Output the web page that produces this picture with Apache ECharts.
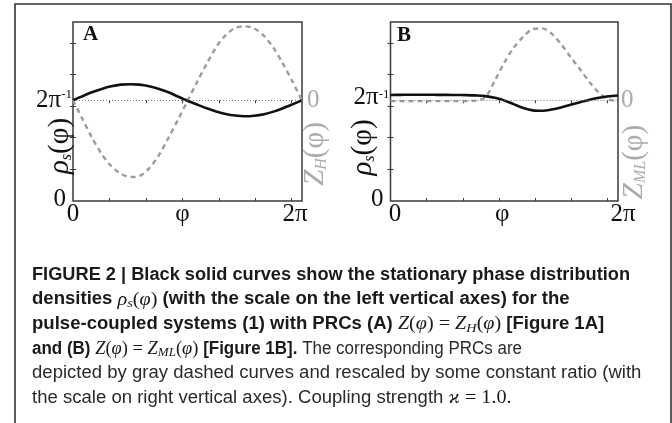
<!DOCTYPE html>
<html>
<head>
<meta charset="utf-8">
<script src="https://cdn.jsdelivr.net/npm/echarts@6/dist/echarts.min.js"></script>
<style>
  html, body { margin: 0; padding: 0; background: #fff; }
  #chart { width: 672px; height: 423px; }
</style>
</head>
<body>
<div id="chart"></div>
<script>
// Phase samples (radians) shared by every curve
const phi = [0.00, 0.26, 0.52, 0.79, 1.05, 1.31, 1.57, 1.83, 2.09, 2.36, 2.62, 2.88, 3.14,
             3.40, 3.67, 3.93, 4.19, 4.45, 4.71, 4.97, 5.24, 5.50, 5.76, 6.02, 6.28];

// Panel A: stationary density and Hodgkin-Huxley PRC (rescaled)
const rhoA = [0.1592, 0.1656, 0.1717, 0.1771, 0.1812, 0.1838, 0.1845, 0.1838, 0.1812, 0.1771, 0.1717, 0.1650, 0.1585,
              0.1525, 0.1465, 0.1415, 0.1375, 0.1350, 0.1340, 0.1348, 0.1372, 0.1412, 0.1465, 0.1527, 0.1592];
const zH = [0, -0.25, -0.50, -0.72, -0.88, -0.98, -1.025, -1.01, -0.91, -0.73, -0.50, -0.26, -0.01,
            0.24, 0.49, 0.71, 0.87, 0.965, 0.987, 0.96, 0.86, 0.70, 0.49, 0.25, 0];

// Panel B: stationary density and Morris-Lecar PRC (rescaled)
const rhoB = [0.1675, 0.1677, 0.1678, 0.1678, 0.1678, 0.1677, 0.1676, 0.1675, 0.1673, 0.1668, 0.1657, 0.1630, 0.1590,
              0.1530, 0.1470, 0.1432, 0.1425, 0.1445, 0.1478, 0.1520, 0.1562, 0.1600, 0.1632, 0.1655, 0.1668];
const zML = [-0.012, -0.012, -0.012, -0.012, -0.012, -0.012, -0.012, -0.012, -0.010, -0.005, 0.04, 0.26, 0.50,
             0.70, 0.85, 0.95, 0.96, 0.89, 0.75, 0.58, 0.41, 0.24, 0.10, 0.01, -0.01];

// Axis ticks
const phaseTicks = [1, 2, 3, 4, 5, 6];
const densityTicks = [0.05, 0.10, 0.15, 0.20, 0.25];

const TWO_PI = 2 * Math.PI;
const RHO_MEAN = 1 / TWO_PI;     // uniform density level, labelled 2π⁻¹
const RHO_MAX = 0.2828;          // top of the density axis
const PRC_SCALE = 0.1183;        // density units per PRC unit on the right axis
const prcMin = -RHO_MEAN / PRC_SCALE;
const prcMax = (RHO_MAX - RHO_MEAN) / PRC_SCALE;
const prcTicks = densityTicks.map(v => (v - RHO_MEAN) / PRC_SCALE);

const SERIF = '"Liberation Serif", "Times New Roman", serif';
const SANS = '"Liberation Sans", Arial, Helvetica, sans-serif';
const FRAME = '#3a3a3a';
const GRAY = '#9c9c9c';
const LIGHT = '#ababab';

const zip = (xs, ys) => xs.map((x, i) => [x, ys[i]]);

function shiftPad(s) { return s < 0 ? [0, -2 * s, 0, 0] : [0, 0, 0, 2 * s]; }

function panel(idx, xShift, meanLift, rho, prc) {
  const xb = idx * 2, yl = idx * 2;
  const tickStyle = { show: true, inside: true, length: 3, lineStyle: { color: FRAME, width: 1 } };
  const xAxes = [
    {
      gridIndex: idx, type: 'value', min: 0, max: TWO_PI, position: 'bottom',
      splitLine: { show: false }, axisLine: { show: false },
      axisTick: Object.assign({ customValues: phaseTicks }, tickStyle),
      axisLabel: {
        customValues: [0, Math.PI, TWO_PI], margin: 1,
        formatter: v => v === 0 ? '{p0|0}' : (v === Math.PI ? '{p1|φ}' : '{p2|2π}'),
        rich: {
          p0: { fontFamily: SERIF, fontSize: 25, color: '#111', padding: shiftPad(xShift[0]) },
          p1: { fontFamily: SERIF, fontSize: 25, color: '#111', padding: shiftPad(xShift[1]) },
          p2: { fontFamily: SERIF, fontSize: 25, color: '#111', padding: shiftPad(xShift[2]) }
        }
      }
    },
    {
      gridIndex: idx, type: 'value', min: 0, max: TWO_PI, position: 'top',
      splitLine: { show: false }, axisLine: { show: false },
      axisTick: Object.assign({ customValues: phaseTicks }, tickStyle),
      axisLabel: { show: false }
    }
  ];
  const yAxes = [
    {
      gridIndex: idx, type: 'value', min: 0, max: RHO_MAX, position: 'left',
      splitLine: { show: false }, axisLine: { show: false },
      axisTick: Object.assign({ customValues: densityTicks }, tickStyle),
      axisLabel: {
        customValues: [0, RHO_MEAN], margin: 1,
        formatter: v => v === 0 ? '{z|0}' : '{a|2π}{s|-1}',
        rich: {
          z: { fontFamily: SERIF, fontSize: 25, color: '#111', padding: [0, 6, 4, 0] },
          a: { fontFamily: SERIF, fontSize: 25, color: '#111', lineHeight: 25, padding: [0, 0, meanLift, 0] },
          s: { fontFamily: SERIF, fontSize: 13, color: '#111', lineHeight: 13, verticalAlign: 'top' }
        }
      }
    },
    {
      gridIndex: idx, type: 'value', min: prcMin, max: prcMax, position: 'right',
      splitLine: { show: false }, axisLine: { show: false },
      axisTick: Object.assign({ customValues: prcTicks }, tickStyle),
      axisLabel: {
        customValues: [0], margin: idx === 0 ? 5 : 3,
        formatter: () => '0',
        fontFamily: SERIF, fontSize: 25, color: LIGHT
      }
    }
  ];
  const series = [
    {
      type: 'line', xAxisIndex: xb, yAxisIndex: yl + 1, data: zip(phi, prc),
      smooth: 0.3, showSymbol: false, silent: true, z: 2,
      lineStyle: { color: GRAY, width: 2.4, type: [5, 4] },
      markLine: {
        silent: true, symbol: 'none', label: { show: false },
        lineStyle: { color: '#7a7a7a', width: 1, type: [1, 2] },
        data: [{ yAxis: 0 }]
      }
    },
    {
      type: 'line', xAxisIndex: xb, yAxisIndex: yl, data: zip(phi, rho),
      smooth: 0.3, showSymbol: false, silent: true, z: 3,
      lineStyle: { color: '#111', width: 2.6 }
    }
  ];
  return { xAxes, yAxes, series };
}

const grids = [
  { left: 73, top: 22, width: 229, height: 179 },
  { left: 390.5, top: 22, width: 227.5, height: 179 }
].map(g => Object.assign({ show: true, borderColor: FRAME, borderWidth: 1.5, backgroundColor: 'transparent' }, g));

const pA = panel(0, [0, -5, -7], 0, rhoA, zH);
const pB = panel(1, [4.5, -2, 5], 6, rhoB, zML);

// Rotated axis titles and panel letters
function vtext(x, y, text, rich) {
  return { type: 'text', x, y, rotation: Math.PI / 2, silent: true,
           style: { text, rich, align: 'center', verticalAlign: 'middle' } };
}
const rhoRich = {
  i: { fontFamily: SERIF, fontStyle: 'italic', fontSize: 29, fill: '#111', lineHeight: 30 },
  s: { fontFamily: SERIF, fontStyle: 'italic', fontSize: 16, fill: '#111', lineHeight: 14, verticalAlign: 'bottom' },
  r: { fontFamily: SERIF, fontSize: 29, fill: '#111', lineHeight: 30 }
};
const zRich = {
  i: { fontFamily: SERIF, fontStyle: 'italic', fontSize: 29, fill: LIGHT, lineHeight: 30 },
  s: { fontFamily: SERIF, fontStyle: 'italic', fontSize: 16, fill: LIGHT, lineHeight: 14, verticalAlign: 'bottom' },
  r: { fontFamily: SERIF, fontSize: 29, fill: LIGHT, lineHeight: 30 }
};

// Caption: sans text with inline math
const capRich = {
  b: { fontFamily: SANS, fontWeight: 'bold', fontSize: 17.5, fill: '#1a1a1a', lineHeight: 22 },
  r: { fontFamily: SANS, fontWeight: 'normal', fontSize: 17.5, fill: '#2a2a2a', lineHeight: 22 },
  mi: { fontFamily: SERIF, fontStyle: 'italic', fontSize: 19, fill: '#1a1a1a', lineHeight: 22 },
  mr: { fontFamily: SERIF, fontSize: 19, fill: '#1a1a1a', lineHeight: 22 },
  ms: { fontFamily: SERIF, fontStyle: 'italic', fontSize: 13.5, fill: '#1a1a1a', lineHeight: 12, verticalAlign: 'bottom' }
};
const captionLines = [
  '{b|FIGURE 2 | Black solid curves show the stationary phase distribution}',
  '{b|densities }{mi|ρ}{ms|s}{mr|(}{mi|φ}{mr|)}{b| (with the scale on the left vertical axes) for the}',
  '{b|pulse-coupled systems (1) with PRCs (A) }{mi|Z}{mr|(}{mi|φ}{mr|) = }{mi|Z}{ms|H}{mr|(}{mi|φ}{mr|)}{b| [Figure 1A]}',
  '{b|and (B) }{mi|Z}{mr|(}{mi|φ}{mr|) = }{mi|Z}{ms|ML}{mr|(}{mi|φ}{mr|)}{b| [Figure 1B].}{r| The corresponding PRCs are}',
  '{r|depicted by gray dashed curves and rescaled by some constant ratio (with}',
  '{r|the scale on right vertical axes). Coupling strength }{mi|ϰ}{mr| = 1.0.}'
];
// Preferred right end of each caption line; glyph widths stay within a few percent of natural
const captionEnds = [630, 610, 645, 502, 645, 527];
const captionLeft = 32, captionTop = 275, captionStep = 24.6;

// Natural width of a rich-text line, measured with the same fonts
const measureCtx = document.createElement('canvas').getContext('2d');
function naturalWidth(line) {
  let w = 0;
  line.replace(/\{(\w+)\|([^}]*)\}/g, (m, key, txt) => {
    const s = capRich[key];
    measureCtx.font = `${s.fontStyle || 'normal'} ${s.fontWeight || 'normal'} ${s.fontSize}px ${s.fontFamily}`;
    w += measureCtx.measureText(txt).width;
    return m;
  });
  return w;
}
const clamp = (v, lo, hi) => Math.min(hi, Math.max(lo, v));

const graphics = [
  { type: 'rect', silent: true, shape: { x: 15, y: 4, width: 656, height: 480 },
    style: { fill: 'none', stroke: '#333', lineWidth: 1.6 } },
  { type: 'text', x: 83, y: 35, silent: true,
    style: { text: 'A', fontFamily: SERIF, fontWeight: 'bold', fontSize: 21, fill: '#111', align: 'left', verticalAlign: 'middle' } },
  { type: 'text', x: 397, y: 35.5, silent: true,
    style: { text: 'B', fontFamily: SERIF, fontWeight: 'bold', fontSize: 21, fill: '#111', align: 'left', verticalAlign: 'middle' } },
  vtext(60, 146, '{i|ρ}{s|s}{r|(φ)}', rhoRich),
  vtext(315, 154, '{i|Z}{s|H}{r|(φ)}', zRich),
  vtext(363, 147.5, '{i|ρ}{s|s}{r|(φ)}', rhoRich),
  vtext(634, 162, '{i|Z}{s|ML}{r|(φ)}', zRich)
].concat(captionLines.map((t, i) => ({
  type: 'text', x: captionLeft, y: captionTop + i * captionStep,
  scaleX: clamp((captionEnds[i] - captionLeft) / naturalWidth(t), 0.97, 1.06), silent: true,
  style: { text: t, rich: capRich, align: 'left', verticalAlign: 'middle' }
})));

const chart = echarts.init(document.getElementById('chart'), null, { renderer: 'canvas' });
chart.setOption({
  animation: false,
  backgroundColor: '#fff',
  grid: grids,
  xAxis: pA.xAxes.concat(pB.xAxes),
  yAxis: pA.yAxes.concat(pB.yAxes),
  series: pA.series.concat(pB.series),
  graphic: graphics
});
</script>
</body>
</html>
